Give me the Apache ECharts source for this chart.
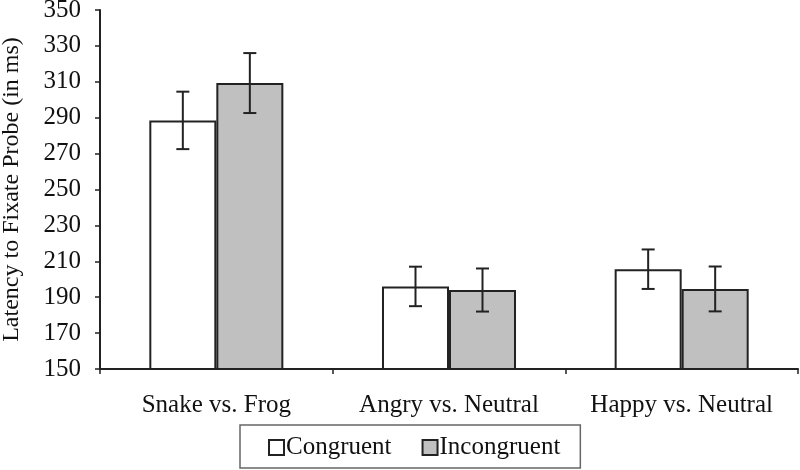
<!DOCTYPE html>
<html>
<head>
<meta charset="utf-8">
<script src="https://cdn.jsdelivr.net/npm/echarts@6/dist/echarts.min.js"></script>
<style>html,body{margin:0;padding:0;background:#fff;}#c{width:800px;height:470px;}</style>
</head>
<body>
<div id="c"></div>
<script>
const categories = ['Snake vs. Frog', 'Angry vs. Neutral', 'Happy vs. Neutral'];
const seriesNames = ['Congruent', 'Incongruent'];
const congruent = [288.5, 196, 205.6];
const incongruent = [309.3, 194, 194.6];
const congruentErr = [16, 11, 11];
const incongruentErr = [16.7, 12, 12.5];
const yTicks = [150, 170, 190, 210, 230, 250, 270, 290, 310, 330, 350];

const FONT = '"Liberation Serif", "Times New Roman", serif';
const BAR_FRAC = 0.288;

function errSeries(values, errs, side) {
  return {
    type: 'custom',
    silent: true,
    z: 5,
    data: values.map((v, i) => [i, v - errs[i], v + errs[i]]),
    renderItem: function (params, api) {
      const idx = api.value(0);
      const band = api.size([1, 0])[0];
      const off = side * band * BAR_FRAC / 2;
      const lo = api.coord([idx, api.value(1)]);
      const hi = api.coord([idx, api.value(2)]);
      const x = lo[0] + off;
      const cap = 6.5;
      const st = { stroke: '#222', lineWidth: 2 };
      return {
        type: 'group',
        children: [
          { type: 'line', shape: { x1: x, y1: lo[1], x2: x, y2: hi[1] }, style: st },
          { type: 'line', shape: { x1: x - cap, y1: lo[1], x2: x + cap, y2: lo[1] }, style: st },
          { type: 'line', shape: { x1: x - cap, y1: hi[1], x2: x + cap, y2: hi[1] }, style: st }
        ]
      };
    }
  };
}

const chart = echarts.init(document.getElementById('c'), null, { renderer: 'canvas' });
chart.setOption({
  animation: false,
  backgroundColor: '#fff',
  textStyle: { fontFamily: FONT, color: '#000' },
  grid: { left: 100, right: 2, top: 10, bottom: 101, containLabel: false, outerBoundsMode: 'none' },
  legend: {
    data: seriesNames.map(n => ({ name: n, icon: 'rect' })),
    left: 240,
    top: 425,
    padding: [10, 20, 8, 28],
    itemWidth: 15,
    itemHeight: 15,
    itemGap: 30,
    borderColor: '#666',
    borderWidth: 1.5,
    backgroundColor: '#fff',
    textStyle: { fontFamily: FONT, fontSize: 25, color: '#111', padding: [0, 0, 0, -3], lineHeight: 24 }
  },
  xAxis: {
    type: 'category',
    data: categories,
    axisLine: { lineStyle: { color: '#222', width: 2 } },
    axisTick: { show: true, interval: 0, length: 5, lineStyle: { color: '#222', width: 1.5 } },
    axisLabel: { interval: 0, hideOverlap: false, fontFamily: FONT, fontSize: 25, color: '#111', margin: 24 }
  },
  yAxis: {
    type: 'value',
    min: yTicks[0],
    max: yTicks[yTicks.length - 1],
    interval: 20,
    name: 'Latency to Fixate Probe (in ms)',
    nameLocation: 'middle',
    nameGap: 76,
    nameMoveOverlap: false,
    nameTextStyle: { fontFamily: FONT, fontSize: 24, color: '#111' },
    splitLine: { show: false },
    axisLine: { show: true, lineStyle: { color: '#222', width: 2 } },
    axisTick: { show: true, length: 5, lineStyle: { color: '#222', width: 1.5 } },
    axisLabel: { fontFamily: FONT, fontSize: 25, color: '#111', margin: 19 }
  },
  series: [
    {
      name: seriesNames[0],
      type: 'bar',
      data: congruent,
      barWidth: (BAR_FRAC * 100) + '%',
      barGap: '0%',
      itemStyle: { color: '#ffffff', borderColor: '#222', borderWidth: 2 }
    },
    {
      name: seriesNames[1],
      type: 'bar',
      data: incongruent,
      barWidth: (BAR_FRAC * 100) + '%',
      barGap: '0%',
      itemStyle: { color: '#c0c0c0', borderColor: '#222', borderWidth: 2 }
    },
    errSeries(congruent, congruentErr, -1),
    errSeries(incongruent, incongruentErr, 1)
  ]
});
</script>
</body>
</html>
